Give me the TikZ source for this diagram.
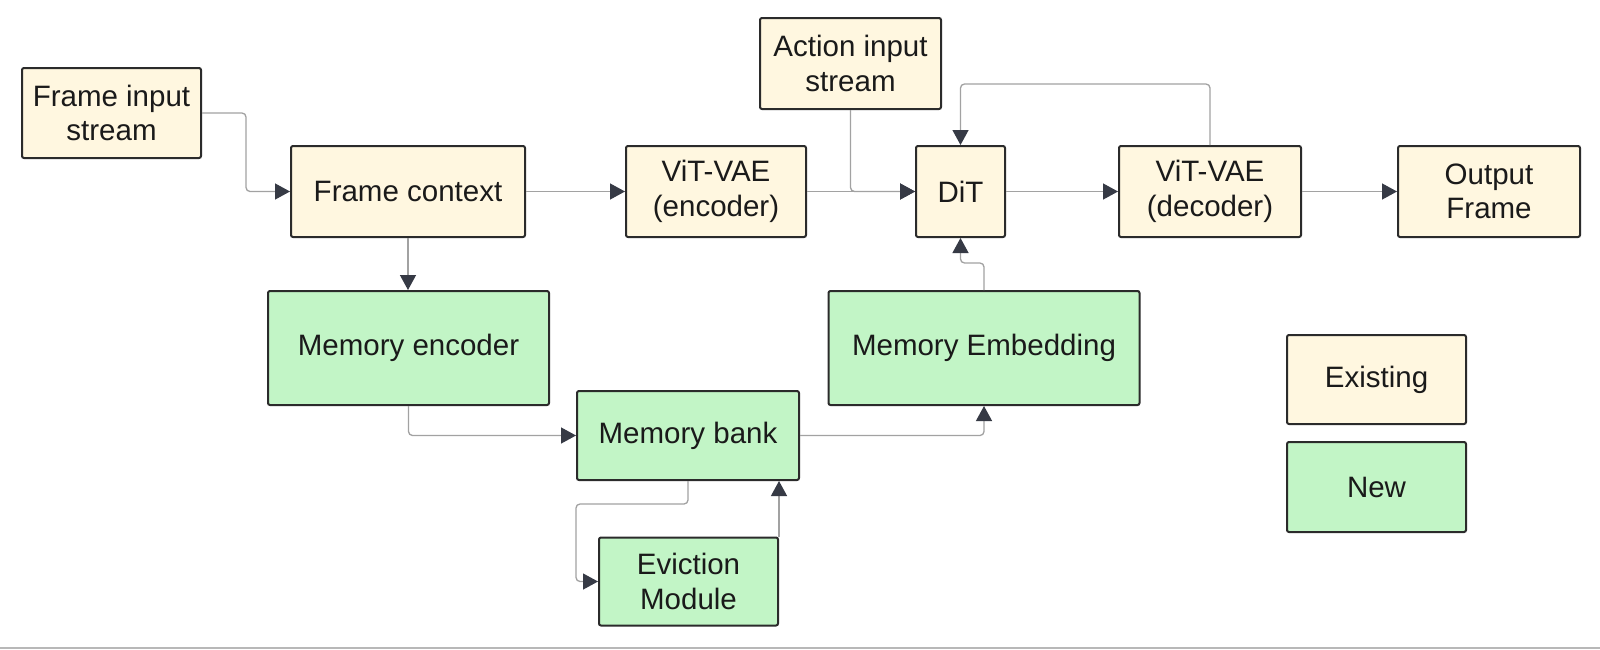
\documentclass[tikz,border=0pt]{standalone}
\usepackage{fontspec}
\setmainfont{Liberation Sans}
\usetikzlibrary{arrows.meta,calc}
\definecolor{cream}{HTML}{FFF7E0}
\definecolor{mint}{HTML}{C2F5C6}
\definecolor{edgec}{HTML}{2B2B2B}
\definecolor{connc}{HTML}{A2A2A2}
\definecolor{tipc}{HTML}{363A45}
\definecolor{textc}{HTML}{1A1A1A}
\tikzset{
  box/.style={draw=edgec, line width=2pt, rounded corners=2pt, inner sep=0pt,
    align=center, text=textc, font=\fontsize{29.5}{34.5}\selectfont},
  oldbox/.style={box, fill=cream},
  newbox/.style={box, fill=mint},
  conn/.style={draw=connc, line width=1.3pt, rounded corners=4pt,
    -{Triangle[length=15pt,width=16pt,color=tipc]}},
}
\begin{document}
\begin{tikzpicture}[x=1pt,y=-1pt]
\useasboundingbox (0,0) rectangle (1600,649);
\fill[white] (0,0) rectangle (1600,649);
\draw[color=black!28, line width=2pt] (0,648) -- (1600,648);

% existing blocks
\node[oldbox, minimum width=179pt, minimum height=90pt] (fin) at (111.5,113) {Frame input\\stream};
\node[oldbox, minimum width=234pt, minimum height=91pt] (fctx) at (408,191.5) {Frame context};
\node[oldbox, minimum width=180pt, minimum height=91pt] (venc) at (716,191.5) {ViT-VAE\\(encoder)};
\node[oldbox, minimum width=89pt, minimum height=91pt] (dit) at (960.5,191.5) {DiT};
\node[oldbox, minimum width=181pt, minimum height=91pt] (act) at (850.5,63.5) {Action input\\stream};
\node[oldbox, minimum width=182pt, minimum height=91pt] (vdec) at (1210,191.5) {ViT-VAE\\(decoder)};
\node[oldbox, minimum width=182pt, minimum height=91pt] (out) at (1489,191.5) {Output\\Frame};

% new blocks
\node[newbox, minimum width=281pt, minimum height=114pt] (menc) at (408.5,348) {Memory encoder};
\node[newbox, minimum width=311pt, minimum height=114pt] (memb) at (984,348) {Memory Embedding};
\node[newbox, minimum width=222pt, minimum height=89pt] (mbank) at (688,435.5) {Memory bank};
\node[newbox, minimum width=179pt, minimum height=88pt] (evict) at (688.5,581.5) {Eviction\\Module};

% legend
\node[oldbox, minimum width=179pt, minimum height=89pt] (exist) at (1376.5,379.5) {Existing};
\node[newbox, minimum width=179pt, minimum height=90pt] (new) at (1376.5,487) {New};

% connectors
\draw[conn] (fin.east) -- ++(44,0) |- (fctx.west);
\draw[conn] (fctx.east) -- (venc.west);
\draw[conn] (venc.east) -- (dit.west);
\draw[conn] (act.south) |- (dit.west);
\draw[conn] (dit.east) -- (vdec.west);
\draw[conn] (vdec.east) -- (out.west);
\draw[conn] (vdec.north) -- ++(0,-61) -| (dit.north);
\draw[conn] (fctx.south) -- (fctx.south |- menc.north);
\draw[conn] (menc.south) |- (mbank.west);
\draw[conn] (mbank.east) -| (memb.south);
\draw[conn] (memb.north) -- ++(0,-27) -| (dit.south);
\draw[conn] (mbank.south) -- ++(0,23) -- ++(-112,0) |- (evict.west);
\draw[conn] (evict.north east) -- (evict.north east |- mbank.south);
\end{tikzpicture}
\end{document}
